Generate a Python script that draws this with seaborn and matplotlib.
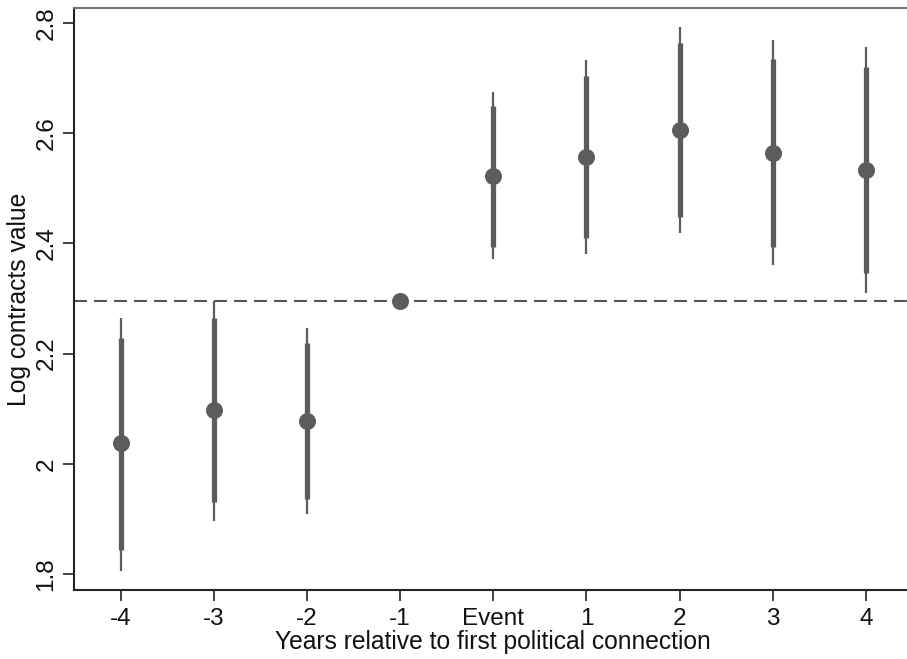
import matplotlib
matplotlib.use("Agg")
import matplotlib.pyplot as plt
import seaborn as sns
import numpy as np
import pandas as pd

# Data
labels = ["-4", "-3", "-2", "-1", "Event", "1", "2", "3", "4"]
coef = [2.037, 2.097, 2.077, 2.296, 2.523, 2.557, 2.606, 2.564, 2.533]
ci90_lo = [1.843, 1.930, 1.937, np.nan, 2.394, 2.410, 2.448, 2.394, 2.347]
ci90_hi = [2.229, 2.265, 2.220, np.nan, 2.650, 2.704, 2.764, 2.735, 2.720]
ci95_lo = [1.805, 1.897, 1.908, np.nan, 2.372, 2.381, 2.419, 2.361, 2.310]
ci95_hi = [2.265, 2.296, 2.247, np.nan, 2.675, 2.733, 2.793, 2.769, 2.756]
ref_value = 2.296

df = pd.DataFrame({"label": labels, "coef": coef,
                   "lo90": ci90_lo, "hi90": ci90_hi,
                   "lo95": ci95_lo, "hi95": ci95_hi})
df["pos"] = np.arange(len(df))

sns.set_theme(style="white")
plt.rcParams["font.family"] = ["Liberation Sans", "DejaVu Sans"]

fig = plt.figure(figsize=(9.07, 6.59), dpi=100)
ax = fig.add_axes([74/907, 69/659, (912.5-74)/907, (590-8)/659])

col = "#5c5c5c"
ax.axhline(ref_value, color="#555555", lw=1.5, ls=(0, (6.2, 3.4)), zorder=1)
ax.vlines(df["pos"], df["lo95"], df["hi95"], color=col, lw=1.6, zorder=2)
ax.vlines(df["pos"], df["lo90"], df["hi90"], color=col, lw=3.8, zorder=3)
sns.scatterplot(data=df, x="pos", y="coef", ax=ax, color=col, s=150,
                edgecolor=col, linewidth=0, zorder=4, legend=False)

ax.set_xlim(-0.5, 8.5)
ax.set_ylim(1.771, 2.827)
ax.set_xticks(df["pos"])
ax.set_xticklabels(labels)
yt = [1.8, 2.0, 2.2, 2.4, 2.6, 2.8]
ax.set_yticks(yt)
ax.set_yticklabels(["1.8", "2", "2.2", "2.4", "2.6", "2.8"], rotation=90, va="center")

ax.tick_params(axis="both", which="major", length=8, width=1.3, color="#333333",
               labelsize=17.5, labelcolor="#111111", direction="out",
               bottom=True, left=True)
ax.tick_params(axis="x", pad=5)
ax.tick_params(axis="y", pad=4)

ax.set_xlabel("Years relative to first political connection", fontsize=17.7,
              color="#111111", labelpad=0)
ax.set_ylabel("Log contracts value", fontsize=17.7, color="#111111", labelpad=3)

for s in ["left", "bottom"]:
    ax.spines[s].set_color("#222222")
    ax.spines[s].set_linewidth(1.5)
ax.spines["top"].set_color("#777777")
ax.spines["top"].set_linewidth(1.5)
ax.spines["right"].set_visible(False)
ax.grid(False)

fig.savefig("out.png", dpi=100)
